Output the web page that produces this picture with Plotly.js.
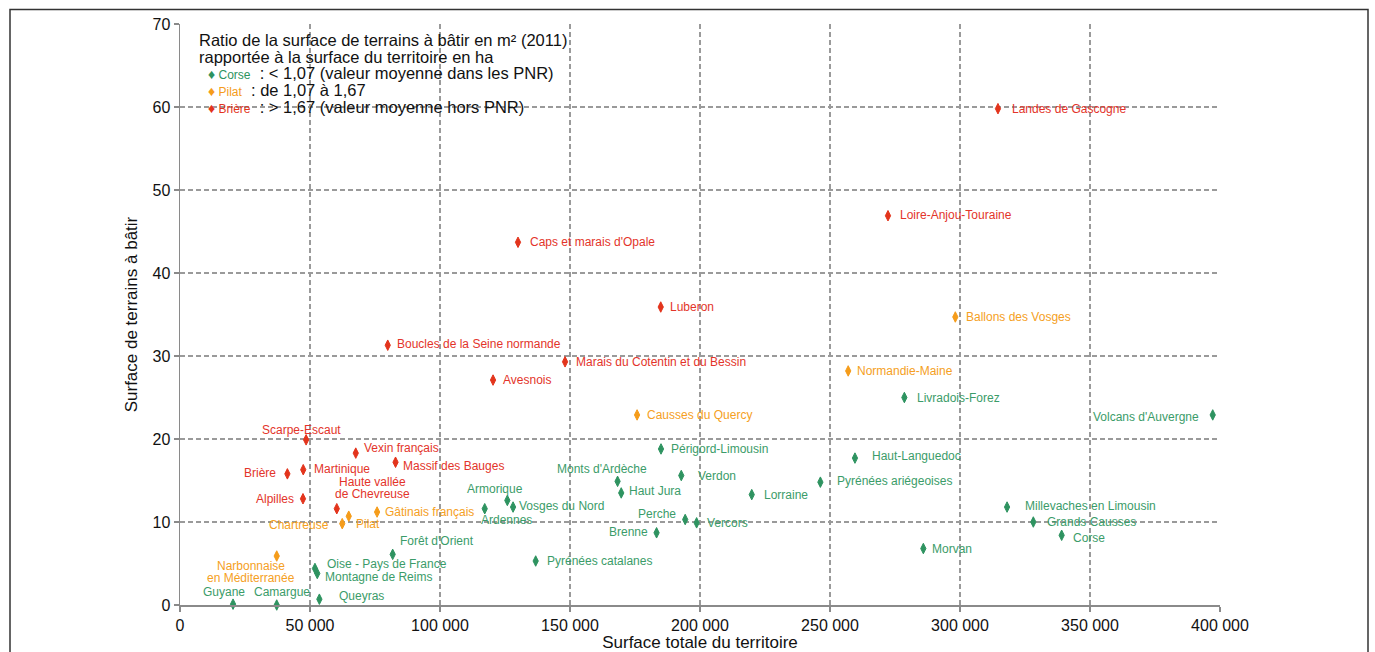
<!DOCTYPE html>
<html><head><meta charset="utf-8">
<script src="https://cdn.plot.ly/plotly-3.0.1.min.js"></script>
<style>html,body{margin:0;padding:0;background:#fff}#chart{width:1375px;height:652px}</style>
</head><body><div id="chart"></div>
<script>
// ---------- DATA ----------
// Ratio > 1,67 (valeur moyenne hors PNR)
const redNames = ["Landes de Gascogne","Loire-Anjou-Touraine","Caps et marais d'Opale","Luberon","Boucles de la Seine normande","Marais du Cotentin et du Bessin","Avesnois","Scarpe-Escaut","Vexin français","Massif des Bauges","Brière","Martinique","Alpilles","Haute vallée<br>de Chevreuse"];
const redSurfaceTotale = [314600,272300,130000,184900,79900,148100,120400,48500,67600,82900,41300,47400,47300,60300];
const redSurfaceBatir  = [59.8,46.9,43.7,35.9,31.3,29.3,27.1,19.9,18.3,17.2,15.8,16.3,12.8,11.6];

// Ratio de 1,07 à 1,67
const orangeNames = ["Pilat","Chartreuse","Gâtinais français","Narbonnaise<br>en Méditerranée","Causses du Quercy","Ballons des Vosges","Normandie-Maine"];
const orangeSurfaceTotale = [64900,62400,75800,37200,175800,298200,257000];
const orangeSurfaceBatir  = [10.7,9.8,11.2,5.9,22.9,34.7,28.2];

// Ratio < 1,07 (valeur moyenne dans les PNR)
const greenNames = ["Guyane","Camargue","Queyras","Oise - Pays de France","Montagne de Reims","Forêt d'Orient","Armorique","Vosges du Nord","Ardennes","Pyrénées catalanes","Monts d'Ardèche","Haut Jura","Périgord-Limousin","Verdon","Perche","Vercors","Brenne","Lorraine","Livradois-Forez","Volcans d'Auvergne","Haut-Languedoc","Pyrénées ariégeoises","Millevaches en Limousin","Grands Causses","Corse","Morvan"];
const greenSurfaceTotale = [20400,37200,53600,51900,52800,81800,125900,128100,117200,136800,168300,169700,185000,192800,194300,198700,183300,219900,278600,397200,259600,246300,318100,328200,339100,285900];
const greenSurfaceBatir  = [0.1,0,0.7,4.4,3.8,6.1,12.6,11.8,11.6,5.3,14.9,13.5,18.8,15.6,10.3,9.9,8.7,13.3,25.0,22.9,17.7,14.8,11.8,10.0,8.4,6.8];

const xTickVals = [0,50000,100000,150000,200000,250000,300000,350000,400000];
const yTickVals = [0,10,20,30,40,50,60,70];

const legendTitle = ["Ratio de la surface de terrains à bâtir en m² (2011)","rapportée à la surface du territoire en ha"];
const legendKeys = ["Corse","Pilat","Brière"];
const legendTexts = [": &lt; 1,07 (valeur moyenne dans les PNR)",": de 1,07 à 1,67",": &gt; 1,67 (valeur moyenne hors PNR)"];

// ---------- STYLE ----------
const FONT = "Liberation Sans, Arial, sans-serif";
const COLORS = {
  red:    {marker:"#e3341c", text:"#e3342a"},
  orange: {marker:"#f59c1a", text:"#f5a023"},
  green:  {marker:"#2e9360", text:"#3b9c69"}
};
// label placement: anchor (l/r/c), dx px, dy px (down positive) — pure styling
const place = {
  "Landes de Gascogne":["l",13,0],"Loire-Anjou-Touraine":["l",11,-1],"Caps et marais d'Opale":["l",11,0],
  "Luberon":["l",8,0],"Boucles de la Seine normande":["l",8,-1],"Marais du Cotentin et du Bessin":["l",10,0],
  "Avesnois":["l",9,0],"Scarpe-Escaut":["c",-5,-10],"Vexin français":["l",7,-5],"Massif des Bauges":["l",6,4],
  "Brière":["r",-10,-1],"Martinique":["l",10,-1],"Alpilles":["r",-8,0],"Haute vallée<br>de Chevreuse":["c",36,-26.4],
  "Pilat":["l",6,8],"Chartreuse":["r",-12,1],"Gâtinais français":["l",7,0],"Narbonnaise<br>en Méditerranée":["c",-26,10],
  "Causses du Quercy":["l",9,0],"Ballons des Vosges":["l",10,0],"Normandie-Maine":["l",8,0],
  "Guyane":["c",-9,-12],"Camargue":["c",5,-13],"Queyras":["l",19,-3],"Oise - Pays de France":["l",11,-4.5],
  "Montagne de Reims":["l",7,3.5],"Forêt d'Orient":["l",6,-13],"Armorique":["c",-12,-11],"Vosges du Nord":["l",5,-1],
  "Ardennes":["c",22,11],"Pyrénées catalanes":["l",10,0],"Monts d'Ardèche":["c",-16,-12],"Haut Jura":["l",7,-2],
  "Périgord-Limousin":["l",9,0],"Verdon":["l",16,0],"Perche":["r",-8,-6],"Vercors":["l",9,0],"Brenne":["r",-8,-1],
  "Lorraine":["l",11,0],"Livradois-Forez":["l",12,0],"Volcans d'Auvergne":["r",-13,2],"Haut-Languedoc":["l",16,-2],
  "Pyrénées ariégeoises":["l",16,-1],"Millevaches en Limousin":["l",17,-1],"Grands Causses":["l",13,0],
  "Corse":["l",10,3],"Morvan":["l",8,0]
};
const LINE_H = 11.5;

function trace(names, xs, ys, col){
  return {type:"scatter", mode:"markers", x:xs, y:ys, text:names, cliponaxis:false, showlegend:false,
    hoverinfo:"text+x+y",
    marker:{symbol:"diamond-tall", size:7.5, color:col.marker, line:{color:col.marker, width:1}}};
}
const annotations = [];
function labels(names, xs, ys, col){
  names.forEach((n,i)=>{
    const p = place[n] || ["l",10,0];
    const lines = n.split("<br>");
    lines.forEach((ln,k)=>{
      annotations.push({x:xs[i], y:ys[i], xref:"x", yref:"y", text:ln, showarrow:false,
        xanchor:{l:"left",r:"right",c:"center"}[p[0]], yanchor:"middle", xshift:p[1], yshift:-(p[2]+k*LINE_H),
        borderpad:0, font:{family:FONT, size:12, color:col.text}});
    });
  });
}
labels(redNames, redSurfaceTotale, redSurfaceBatir, COLORS.red);
labels(orangeNames, orangeSurfaceTotale, orangeSurfaceBatir, COLORS.orange);
labels(greenNames, greenSurfaceTotale, greenSurfaceBatir, COLORS.green);

// legend block (paper coords)
const PL=180, PW=1040, PB=605.3, PH=581.7;
const px = v => (v-PL)/PW, py = v => (PB-v)/PH;
legendTitle.forEach((t,k)=>{
  annotations.push({xref:"paper", yref:"paper", x:px(198), y:py(40+k*16.5), text:t, showarrow:false,
    xanchor:"left", yanchor:"middle", borderpad:0, font:{family:FONT, size:16.5, color:"#111"}});
});
const legCols = [COLORS.green, COLORS.orange, COLORS.red];
const legPad = ["\u00a0\u00a0", "\u00a0 ", "\u00a0\u00a0"];
legendKeys.forEach((k,i)=>{
  annotations.push({xref:"paper", yref:"paper", x:px(207), y:py(73+i*17), showarrow:false,
    text:"<span style='color:"+legCols[i].marker+";font-size:14px'>♦</span><span style='color:"+legCols[i].marker+";font-size:12px'> "+k+"</span>"+legPad[i]+legendTexts[i],
    xanchor:"left", yanchor:"middle", borderpad:0, font:{family:FONT, size:16.5, color:"#111"}});
});

const axisCommon = {
  showline:true, linecolor:"#8a8a8a", linewidth:1.5,
  showgrid:true, gridcolor:"#9a9a9a", gridwidth:1.2, griddash:"5px,3px",
  zeroline:false, ticks:"outside", ticklen:5, tickcolor:"#8a8a8a", tickwidth:1.2,
  tickfont:{family:FONT, size:16, color:"#111"}
};
const layout = {
  width:1375, height:652, margin:{l:180, r:155, t:24, b:47},
  paper_bgcolor:"#fff", plot_bgcolor:"#fff", separators:", ", showlegend:false,
  font:{family:FONT},
  xaxis:Object.assign({}, axisCommon, {range:[0,400000], tickvals:xTickVals, tickformat:",d",
    title:{text:"Surface totale du territoire", font:{family:FONT, size:17, color:"#111"}, standoff:6}}),
  yaxis:Object.assign({}, axisCommon, {range:[0,70], tickvals:yTickVals,
    title:{text:"Surface de terrains à bâtir", font:{family:FONT, size:17, color:"#111"}, standoff:10}}),
  annotations:annotations,
  shapes:[{type:"rect", xref:"paper", yref:"paper", x0:px(10), x1:px(1368), y0:py(700), y1:py(9),
    line:{color:"#333", width:1.5}, fillcolor:"rgba(0,0,0,0)", layer:"above"}]
};
Plotly.newPlot("chart", [
  trace(greenNames, greenSurfaceTotale, greenSurfaceBatir, COLORS.green),
  trace(orangeNames, orangeSurfaceTotale, orangeSurfaceBatir, COLORS.orange),
  trace(redNames, redSurfaceTotale, redSurfaceBatir, COLORS.red)
], layout, {displayModeBar:false, staticPlot:true});
</script></body></html>
